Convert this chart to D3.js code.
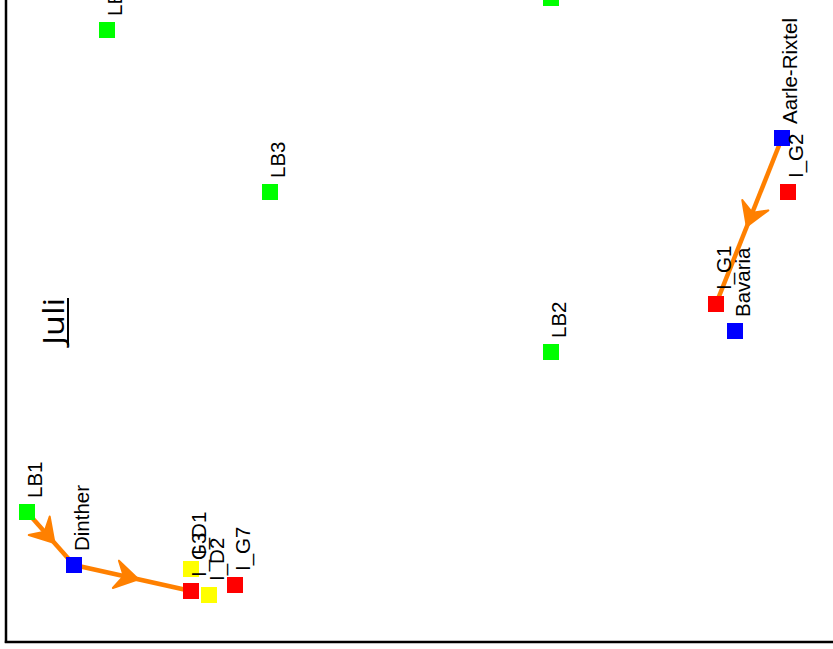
<!DOCTYPE html>
<html>
<head>
<meta charset="utf-8">
<script src="https://cdn.jsdelivr.net/npm/d3@7/dist/d3.min.js"></script>
<style>
  html, body { margin: 0; padding: 0; background: #fff; }
  svg { display: block; }
</style>
</head>
<body>
<div id="chart"></div>
<script>
// ---- data (ordination scores) ----
const names   = ["LB4", "LB5", "LB3", "LB2", "LB1", "Aarle-Rixtel", "I_G2", "I_G1", "Bavaria", "Dinther", "I_D1", "I_G3", "I_D2", "I_G7"];
const groups  = ["LB", "LB", "LB", "LB", "LB", "site", "G", "G", "site", "site", "D", "G", "D", "G"];
const axis1   = [1.01, 5.45, 2.64, 5.45, 0.21, 7.76, 7.82, 7.10, 7.29, 0.68, 1.85, 1.85, 2.03, 2.29];
const axis2   = [6.12, 6.44, 4.50, 2.90, 1.30, 5.04, 4.50, 3.38, 3.11, 0.77, 0.73, 0.51, 0.47, 0.57];
const routes  = [["LB1", "Dinther", "I_G3"], ["Aarle-Rixtel", "I_G1"]];
const panelTitle = "Juli";
const groupColors = { LB: "#00ff00", site: "#0000ff", G: "#ff0000", D: "#ffff00" };

const W = 833, H = 649;
const svg = d3.select("#chart").append("svg").attr("width", W).attr("height", H);

const x = d3.scaleLinear().domain([0, 8.27]).range([6, 833]);
const y = d3.scaleLinear().domain([0, 6.42]).range([642, 0]);

const pts = names.map((n, i) => ({ name: n, group: groups[i], a: axis1[i], b: axis2[i] }));
const byName = Object.fromEntries(pts.map(p => [p.name, p]));

// frame (left + bottom)
svg.append("line").attr("x1", x(0)).attr("x2", x(0)).attr("y1", 0).attr("y2", y(0) + 1)
  .attr("stroke", "#000").attr("stroke-width", 2.5);
svg.append("line").attr("x1", x(0) - 1.2).attr("x2", W).attr("y1", y(0)).attr("y2", y(0))
  .attr("stroke", "#000").attr("stroke-width", 2.5);

// routes with mid-segment arrowheads
const orange = "#ff8000";
const lineG = svg.append("g");
routes.forEach(r => {
  for (let i = 0; i < r.length - 1; i++) {
    const p = byName[r[i]], q = byName[r[i + 1]];
    const x1 = x(p.a), y1 = y(p.b), x2 = x(q.a), y2 = y(q.b);
    lineG.append("line").attr("x1", x1).attr("y1", y1).attr("x2", x2).attr("y2", y2)
      .attr("stroke", orange).attr("stroke-width", 4.5);
    const mx = (x1 + x2) / 2, my = (y1 + y2) / 2;
    const ang = Math.atan2(y2 - y1, x2 - x1) * 180 / Math.PI;
    lineG.append("path")
      .attr("d", "M6,0 L-17,-14 L-9,0 L-17,14 Z")
      .attr("transform", `translate(${mx},${my}) rotate(${ang})`)
      .attr("fill", orange).attr("stroke", orange).attr("stroke-width", 2)
      .attr("stroke-linejoin", "round");
  }
});

// squares
const S = 16;
svg.append("g").selectAll("rect").data(pts).join("rect")
  .attr("x", d => x(d.a) - S / 2).attr("y", d => y(d.b) - S / 2)
  .attr("width", S).attr("height", S)
  .attr("fill", d => groupColors[d.group]);

// labels (rotated)
svg.append("g").selectAll("text").data(pts).join("text")
  .attr("transform", d => `translate(${x(d.a) + 15},${y(d.b) - 14}) rotate(-90)`)
  .attr("font-family", "Liberation Sans, Arial, sans-serif")
  .attr("font-size", 20.5)
  .attr("fill", "#000")
  .text(d => d.name);

// panel title
const tg = svg.append("g").attr("transform", `translate(64,345) rotate(-90)`);
tg.append("text").attr("x", 0).attr("y", 0)
  .attr("font-family", "Open Sans, Liberation Sans, sans-serif")
  .attr("font-size", 29)
  .attr("textLength", 47).attr("lengthAdjust", "spacingAndGlyphs")
  .attr("fill", "#000").text(panelTitle);
tg.append("line").attr("x1", 0).attr("x2", 47).attr("y1", 4).attr("y2", 4)
  .attr("stroke", "#000").attr("stroke-width", 2);
</script>
</body>
</html>
